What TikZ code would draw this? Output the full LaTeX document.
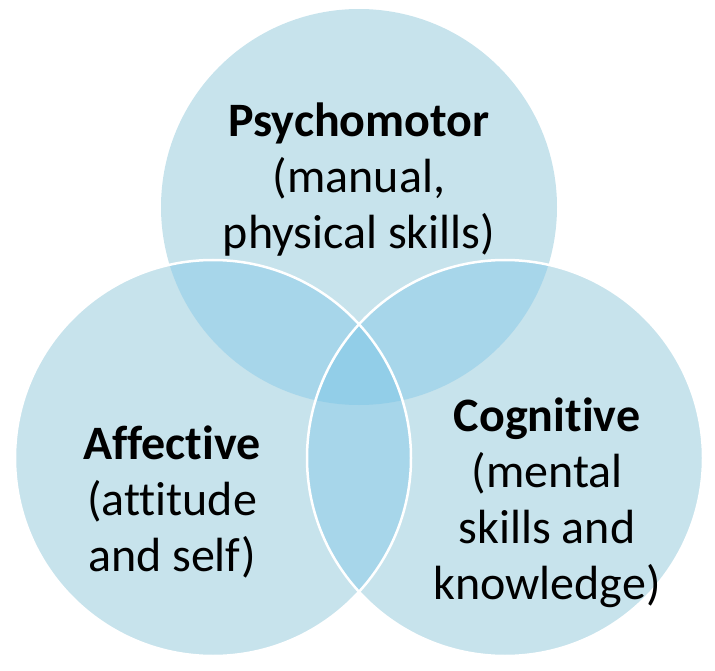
\documentclass[tikz,border=0pt]{standalone}
\usepackage{fontspec}
\setmainfont[Ligatures=CommonOff]{Carlito}
\definecolor{cone}{RGB}{199,227,236}
\definecolor{ctwo}{RGB}{167,214,234}
\definecolor{cthree}{RGB}{146,206,232}
\tikzset{
  lbl/.style={align=center, font=\fontsize{48}{56}\selectfont, text=black, inner sep=0pt},
  rim/.style={draw=white, line width=2.5pt}
}
\begin{document}
\begin{tikzpicture}[x=1pt,y=-1pt]
\useasboundingbox (0,0) rectangle (715,671);
\def\R{198}
\coordinate (T) at (359,207);
\coordinate (L) at (213,458);
\coordinate (Rc) at (505,458);
% single fills
\fill[cone] (T) circle (\R);
\fill[cone] (L) circle (\R);
\fill[cone] (Rc) circle (\R);
% pairwise overlaps
\begin{scope}\clip (T) circle (\R); \fill[ctwo] (L) circle (\R); \fill[ctwo] (Rc) circle (\R);\end{scope}
\begin{scope}\clip (L) circle (\R); \fill[ctwo] (Rc) circle (\R);\end{scope}
% triple overlap
\begin{scope}\clip (T) circle (\R); \clip (L) circle (\R); \fill[cthree] (Rc) circle (\R);\end{scope}
% white rims
\draw[rim] (L) circle (\R);
\draw[rim] (Rc) circle (\R);
% labels
\node[lbl] (psy) at (359,180) {\textbf{Psychomotor}\\(manual,\\physical skills)};
\node[lbl] (aff) at (172,502) {\textbf{Affective}\\(attitude\\and self)};
\node[lbl] (cog) at (547,503) {\textbf{Cognitive}\\(mental\\skills and\\knowledge)};
\end{tikzpicture}
\end{document}
